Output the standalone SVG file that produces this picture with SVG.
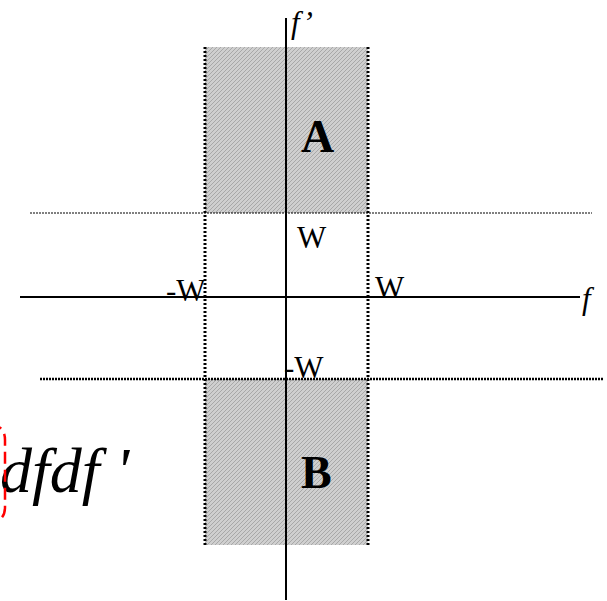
<svg xmlns="http://www.w3.org/2000/svg" width="607" height="601" viewBox="0 0 607 601">
<defs>
<pattern id="hatch" width="4" height="4" patternUnits="userSpaceOnUse">
<rect width="4" height="4" fill="#cfcfcf"/>
<path d="M0 4 L4 0 M-1 1 L1 -1 M3 5 L5 3" stroke="#a8a8a8" stroke-width="1"/>
</pattern>
</defs>
<style>
.t{font-family:"Liberation Serif","Times New Roman",serif;fill:#000}
.lbl{font-size:31px}
.big{font-size:46px;font-weight:bold}
.it{font-style:italic}
.axis{stroke:#000;stroke-width:2;fill:none}
.vd{stroke:#000;stroke-width:3;stroke-dasharray:2 2;fill:none}
.hd1{stroke:#000;stroke-width:1;stroke-dasharray:2 1;fill:none}
.hd2{stroke:#000;stroke-width:2.5;stroke-dasharray:2 1;fill:none}
</style>
<g id="regionA"><rect x="205" y="47" width="163" height="166" fill="url(#hatch)"/><text class="t big" x="301" y="152">A</text></g>
<g id="regionB"><rect x="205" y="379" width="163" height="166" fill="url(#hatch)"/><text class="t big" x="301" y="488">B</text></g>
<g id="connectors">
<line class="hd1" x1="30" y1="213" x2="592" y2="213"/>
<line class="hd2" x1="40" y1="379" x2="603" y2="379"/>
<line class="vd" x1="205" y1="47" x2="205" y2="545"/>
<line class="vd" x1="368" y1="47" x2="368" y2="545"/>
<line class="axis" x1="20" y1="297" x2="580" y2="297"/>
<line class="axis" x1="286" y1="18" x2="286" y2="600"/>
</g>
<g id="labels">
<text class="t lbl" x="297" y="248">W</text>
<text class="t lbl" x="166" y="301">-W</text>
<text class="t lbl" x="375" y="298">W</text>
<text class="t lbl" x="284" y="378">-W</text>
<text class="t lbl it" x="582" y="309" font-size="32">f</text>
<text class="t lbl it" x="291" y="33" font-size="32">f’</text>
</g>
<g id="formula">
<text class="t it" x="0" y="492" font-size="64">dfdf '</text>
<path d="M-10 425 Q5 425 5 440 L5 507 Q5 522 -10 522" fill="none" stroke="#ff0000" stroke-width="2.5" stroke-dasharray="12 6"/>
</g>
</svg>
